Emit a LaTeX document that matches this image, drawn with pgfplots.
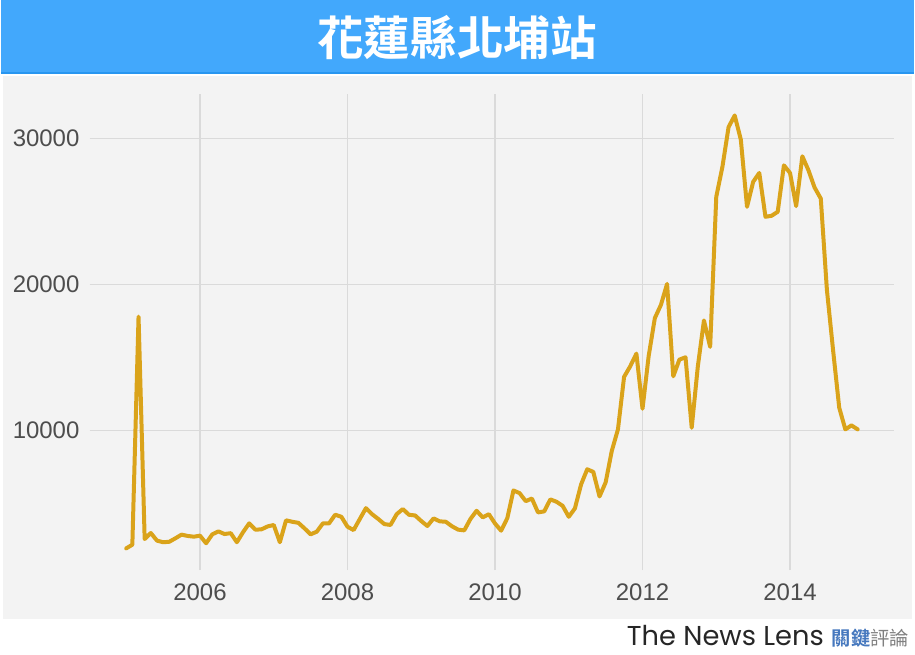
\documentclass[border=0pt]{standalone}
\usepackage{fontspec}
\setmainfont{Liberation Sans}
\newfontfamily\cjk{Noto Sans CJK TC}[BoldFont={Noto Sans CJK TC Bold}]
\newfontfamily\lensfont{Poppins}
\usepackage{pgfplots}
\pgfplotsset{compat=1.18}

\definecolor{barblue}{RGB}{66,168,252}
\definecolor{barline}{RGB}{40,150,240}
\definecolor{panel}{RGB}{243,243,243}
\definecolor{gridc}{RGB}{218,218,218}
\definecolor{linegold}{RGB}{218,163,26}
\definecolor{ticktext}{RGB}{77,77,77}
\definecolor{lensblue}{RGB}{70,120,190}

\pgfplotstableread{
date value
2005.000 1950
2005.083 2200
2005.167 17800
2005.250 2590
2005.333 3000
2005.417 2480
2005.500 2370
2005.583 2400
2005.667 2640
2005.750 2890
2005.833 2800
2005.917 2750
2006.000 2820
2006.083 2300
2006.167 2910
2006.250 3110
2006.333 2930
2006.417 2990
2006.500 2370
2006.583 3050
2006.667 3660
2006.750 3230
2006.833 3250
2006.917 3450
2007.000 3550
2007.083 2370
2007.167 3870
2007.250 3770
2007.333 3700
2007.417 3320
2007.500 2910
2007.583 3090
2007.667 3660
2007.750 3660
2007.833 4250
2007.917 4110
2008.000 3430
2008.083 3200
2008.167 3960
2008.250 4700
2008.333 4290
2008.417 3960
2008.500 3610
2008.583 3550
2008.667 4290
2008.750 4640
2008.833 4250
2008.917 4200
2009.000 3820
2009.083 3480
2009.167 4000
2009.250 3800
2009.333 3770
2009.417 3460
2009.500 3230
2009.583 3180
2009.667 3960
2009.750 4520
2009.833 4070
2009.917 4290
2010.000 3650
2010.083 3160
2010.167 4020
2010.250 5910
2010.333 5730
2010.417 5180
2010.500 5360
2010.583 4410
2010.667 4480
2010.750 5300
2010.833 5140
2010.917 4860
2011.000 4110
2011.083 4680
2011.167 6320
2011.250 7360
2011.333 7180
2011.417 5500
2011.500 6460
2011.583 8610
2011.667 10090
2011.750 13680
2011.833 14400
2011.917 15270
2012.000 11500
2012.083 15090
2012.167 17700
2012.250 18610
2012.333 20040
2012.417 13720
2012.500 14860
2012.583 15020
2012.667 10200
2012.750 14400
2012.833 17540
2012.917 15730
2013.000 26000
2013.083 28040
2013.167 30770
2013.250 31560
2013.333 29900
2013.417 25310
2013.500 27020
2013.583 27630
2013.667 24630
2013.750 24700
2013.833 24970
2013.917 28150
2014.000 27630
2014.083 25360
2014.167 28770
2014.250 27810
2014.333 26630
2014.417 25880
2014.500 19630
2014.583 15540
2014.667 11570
2014.750 10090
2014.833 10360
2014.917 10090
}\stationdata

\def\u{0.75pt}

\begin{document}
\begin{tikzpicture}
% page, title bar, grey panel
\fill[white] (0,0) rectangle ({915*\u},{-656*\u});
\fill[barblue] (0,0) rectangle ({915*\u},{-73*\u});
\draw[barline, line width=1.2pt] (0,{-73*\u}) -- ({915*\u},{-73*\u});
\fill[panel] ({2*\u},{-76*\u}) rectangle ({913*\u},{-620*\u});
\node[text=white, font=\cjk\bfseries\fontsize{35}{40}\selectfont] at ({457*\u},{-38*\u}) {花蓮縣北埔站};

\begin{axis}[
    at={({89*\u},{-571*\u})},
    anchor=south west,
    scale only axis,
    width={806*\u},
    height={477*\u},
    xmin=2004.504, xmax=2015.413,
    ymin=470, ymax=33040,
    xtick={2006,2008,2010,2012,2014},
    ytick={10000,20000,30000},
    scaled y ticks=false,
    /pgf/number format/1000 sep={},
    /pgf/number format/assume math mode=true,
    grid=major,
    major grid style={gridc, line width=1.1pt},
    axis line style={draw=none},
    tick style={draw=none},
    ticklabel style={font=\fontsize{18}{19}\selectfont, text=ticktext, inner sep=0pt},
    xticklabel style={anchor=north, yshift=-10.5pt},
    yticklabel style={anchor=east, xshift=-7.5pt},
]
\addplot[linegold, line width=3pt, line join=round, line cap=round]
    table[x=date, y=value] {\stationdata};
\end{axis}

% footer
\node[anchor=east, inner sep=0pt] at ({910*\u},{-637*\u})
  {\lensfont\fontsize{20.5}{22}\selectfont\color{black!85}The News Lens\hspace{6pt}%
   {\cjk\bfseries\fontsize{14.5}{16}\selectfont\color{lensblue}關鍵\mdseries\color{black!50}評論}};
\end{tikzpicture}
\end{document}
